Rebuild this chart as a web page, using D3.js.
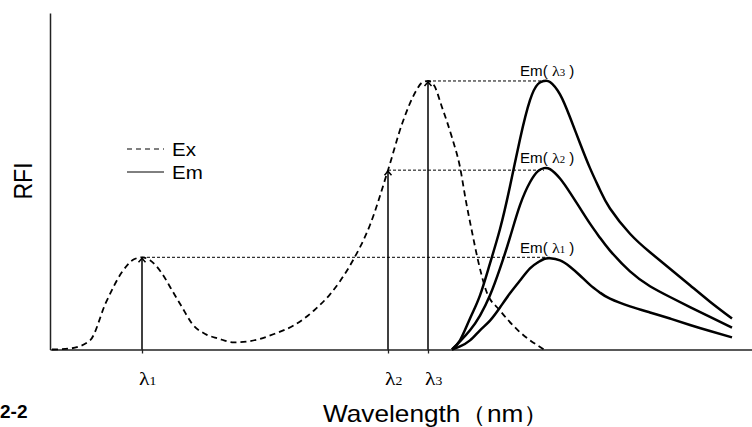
<!DOCTYPE html>
<html>
<head>
<meta charset="utf-8">
<title>Ex / Em spectra</title>
<script src="https://d3js.org/d3.v7.min.js"></script>
<style>
  body { margin: 0; background: #fff; }
  svg { display: block; }
  .sans { font-family: "Liberation Sans", Arial, sans-serif; }
  .serif { font-family: "Liberation Serif", "Times New Roman", serif; }
</style>
</head>
<body>
<svg width="752" height="427"></svg>
<script>
// excitation spectrum (dashed), wavelength in nm, RFI in arbitrary units
var exWave = [201, 210, 220, 228, 236, 242, 246, 250, 256, 261, 266, 271, 278, 284, 292, 304, 312, 322, 332, 340, 345, 351, 360, 369, 376, 383, 386, 389, 392, 396, 401, 405, 408, 411, 414, 418, 425, 434, 447];
var exRFI  = [0, 0.3, 2.7, 14, 23, 26.8, 27.4, 26.5, 22.6, 17.6, 12.6, 7.7, 4.5, 3.3, 2.1, 3.0, 4.6, 7.2, 11.6, 16.4, 20.3, 26.0, 37, 53.3, 67.0, 76.8, 79.3, 79.8, 78.5, 72, 63, 54.2, 44, 35, 26.5, 17.6, 11.6, 5.7, 0];

// emission spectra, one per excitation wavelength
var emWave = [401, 405, 410, 415, 420, 425, 430, 435, 440, 444, 447, 450, 455, 460, 465, 470, 475, 480, 490, 500, 510, 520, 530, 541];
var em1 = [0, 0.9, 2.7, 5.7, 8.6, 12.5, 16.7, 20.5, 24.1, 25.9, 26.9, 27.1, 26.5, 24.6, 22.0, 19.2, 16.9, 15.1, 12.8, 11.0, 9.2, 7.3, 5.5, 3.6];
var em2 = [0, 2.4, 5.7, 10.1, 16.1, 24.1, 33.3, 42.9, 49.7, 53.0, 53.9, 53.6, 50.8, 46.6, 42.0, 37.4, 33.2, 29.4, 23.2, 18.8, 15.6, 12.6, 9.7, 6.5];
var em3 = [0, 2.7, 9.2, 16.1, 25.6, 35.8, 48.5, 62.5, 74.1, 78.9, 79.8, 79.5, 75.8, 69.0, 61.3, 53.9, 47.4, 41.9, 34.4, 28.9, 24.0, 19.1, 14.2, 9.2];

// excitation wavelengths and the Ex intensity there
var lambdas = [246, 369, 389];
var lambdaRFI = [27.4, 53.3, 79.8];
var tickNames = ["1", "2", "3"];

var svg = d3.select("svg");
var x = d3.scaleLinear().domain([200, 551]).range([50, 752]);
var y = d3.scaleLinear().domain([0, 100]).range([349.5, 13]);
var stretch = 1.14; // text in the picture is a bit wide

var exLine = d3.line()
    .x(function(d) { return x(d[0]); })
    .y(function(d) { return y(d[1]); })
    .curve(d3.curveMonotoneX);

var emLine = d3.line()
    .x(function(d) { return x(d[0]); })
    .y(function(d) { return y(d[1]); })
    .curve(d3.curveNatural);

// axes
svg.append("g")
    .attr("transform", "translate(" + x(200) + ",0)")
    .call(d3.axisLeft(y).ticks(0).tickSizeOuter(0))
    .call(function(g) { g.select(".domain").attr("stroke", "#222").attr("stroke-width", 1.5); });

var xAxis = svg.append("g")
    .attr("transform", "translate(0," + y(0) + ")")
    .call(d3.axisBottom(x).tickValues(lambdas).tickSize(4).tickSizeOuter(0).tickFormat(""));
xAxis.select(".domain").attr("stroke", "#222").attr("stroke-width", 1.5);
xAxis.selectAll(".tick line").attr("stroke", "#222").attr("stroke-width", 1.3);

// λ tick labels
lambdas.forEach(function(w, i) {
  var t = svg.append("text").attr("class", "serif")
      .attr("transform", "translate(" + (x(w) - 3) + ",385) scale(" + stretch + ",1)");
  t.append("tspan").attr("font-size", 19).text("λ");
  t.append("tspan").attr("font-size", 12).text(tickNames[i]);
});

// dotted guide lines from arrow tip to emission peak
var ems = [em1, em2, em3];
ems.forEach(function(em, i) {
  var top = d3.maxIndex(em);
  svg.append("line")
      .attr("x1", x(lambdas[i])).attr("x2", x(emWave[top]))
      .attr("y1", y(lambdaRFI[i])).attr("y2", y(lambdaRFI[i]))
      .attr("stroke", "#000").attr("stroke-width", 1)
      .attr("stroke-dasharray", "3,2");
});

// excitation curve
svg.append("path")
    .datum(d3.zip(exWave, exRFI))
    .attr("d", exLine)
    .attr("fill", "none").attr("stroke", "#000")
    .attr("stroke-width", 1.8).attr("stroke-dasharray", "6,4");

// emission curves
ems.forEach(function(em) {
  svg.append("path")
      .datum(d3.zip(emWave, em))
      .attr("d", emLine)
      .attr("fill", "none").attr("stroke", "#000")
      .attr("stroke-width", 2.5);
});

// arrows up from the axis
lambdas.forEach(function(w, i) {
  var ax = x(w), tip = y(lambdaRFI[i]) + 1;
  svg.append("line")
      .attr("x1", ax).attr("x2", ax).attr("y1", y(0)).attr("y2", tip)
      .attr("stroke", "#000").attr("stroke-width", 1.5);
  svg.append("path")
      .attr("d", "M" + (ax - 3.5) + "," + (tip + 4) + "L" + ax + "," + tip + "L" + (ax + 3.5) + "," + (tip + 4))
      .attr("fill", "none").attr("stroke", "#000").attr("stroke-width", 1.5);
});

// Em(λn) labels above each peak
ems.forEach(function(em, i) {
  var top = d3.max(em);
  var t = svg.append("text")
      .attr("transform", "translate(" + x(435) + "," + (y(top) - 5) + ") scale(1.08,1)")
      .attr("font-size", 14);
  t.append("tspan").attr("class", "sans").text("Em( ");
  t.append("tspan").attr("class", "serif").attr("font-size", 15).text("λ");
  t.append("tspan").attr("class", "serif").attr("font-size", 10).text(tickNames[i]);
  t.append("tspan").attr("class", "sans").text(" )");
});

// legend
var legend = [
  { name: "Ex", dash: "5,4", ly: 149 },
  { name: "Em", dash: null, ly: 172 }
];
legend.forEach(function(d) {
  svg.append("line")
      .attr("x1", 127).attr("x2", 164).attr("y1", d.ly).attr("y2", d.ly)
      .attr("stroke", "#000").attr("stroke-width", 1)
      .attr("stroke-dasharray", d.dash);
  svg.append("text").attr("class", "sans")
      .attr("transform", "translate(172," + (d.ly + 7) + ") scale(" + stretch + ",1)")
      .attr("font-size", 18).text(d.name);
});

// axis titles
svg.append("text").attr("class", "sans")
    .attr("transform", "translate(32,181) scale(" + stretch + ",1) rotate(-90)")
    .attr("text-anchor", "middle").attr("font-size", 23).text("RFI");

svg.append("text").attr("class", "sans")
    .attr("transform", "translate(323,422) scale(" + stretch + ",1)")
    .attr("font-size", 23).text("Wavelength（nm）");

svg.append("text").attr("class", "sans")
    .attr("x", 0).attr("y", 418)
    .attr("font-size", 19).attr("font-weight", "bold").text("2-2");
</script>
</body>
</html>
